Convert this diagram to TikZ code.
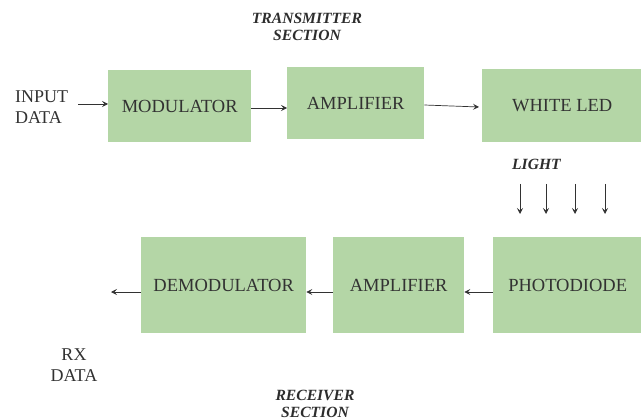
\documentclass[tikz,border=0pt]{standalone}
\usepackage{fontspec}
\setmainfont{Liberation Serif}
\usetikzlibrary{arrows.meta}
\definecolor{boxgreen}{RGB}{180,214,166}
\definecolor{txt}{RGB}{50,50,50}
\tikzset{
  blk/.style={fill=boxgreen, draw=none, inner sep=0pt, anchor=north west, text=txt, font=\fontsize{18.5}{20}\selectfont},
  lbl/.style={text=txt, font=\fontsize{18}{21}\selectfont, align=left, inner sep=0pt},
  sec/.style={text=txt!90!black, font=\fontsize{15.6}{17.5}\selectfont\bfseries\itshape, align=center, inner sep=0pt},
  arr/.style={draw=txt, line width=0.7pt, -{Stealth[length=6pt,width=6pt,inset=2.5pt]}},
}
\begin{document}
\begin{tikzpicture}[x=1pt,y=-1pt]
\useasboundingbox (0,0) rectangle (641,420);
% top row
\node[blk, minimum width=143pt, minimum height=72pt] (mod) at (108,70) {MODULATOR};
\node[blk, minimum width=137pt, minimum height=72pt] (amp1) at (287,67) {AMPLIFIER};
\node[blk, minimum width=160pt, minimum height=73pt] (led) at (482,69) {WHITE LED};
% bottom row
\node[blk, minimum width=165pt, minimum height=96pt] (demod) at (141,237) {DEMODULATOR};
\node[blk, minimum width=131pt, minimum height=96pt] (amp2) at (333,237) {AMPLIFIER};
\node[blk, minimum width=149pt, minimum height=96pt] (pd) at (493,237) {PHOTODIODE};
% labels
\node[sec] (tx) at (307,27) {TRANSMITTER\\SECTION};
\node[sec] (rx) at (315,404) {RECEIVER\\SECTION};
\node[sec, anchor=west] (light) at (512,164) {LIGHT};
\node[lbl, anchor=west] (in) at (15,107) {INPUT\\DATA};
\node[lbl, align=center] (out) at (74,365) {RX\\DATA};
% connectors
\coordinate (inA) at (78,104);
\draw[arr] (inA) -- (mod.west |- inA);
\draw[arr] (mod.east |- 0,108) -- (amp1.west |- 0,108);
\draw[arr] (amp1.east |- 0,105) -- ([xshift=-3pt]led.west |- 0,107);
\draw[arr] (pd.west |- 0,292) -- (amp2.east |- 0,292);
\draw[arr] (amp2.west |- 0,292) -- (demod.east |- 0,292);
\coordinate (outA) at (111,292);
\draw[arr] (demod.west |- 0,292) -- (outA);
% light arrows
\foreach \xx/\nm in {520/l1,546/l2,575/l3,605/l4}{
  \coordinate (\nm a) at (\xx,184);
  \coordinate (\nm b) at (\xx,214);
  \draw[arr] (\nm a) -- (\nm b);
}
\end{tikzpicture}
\end{document}
